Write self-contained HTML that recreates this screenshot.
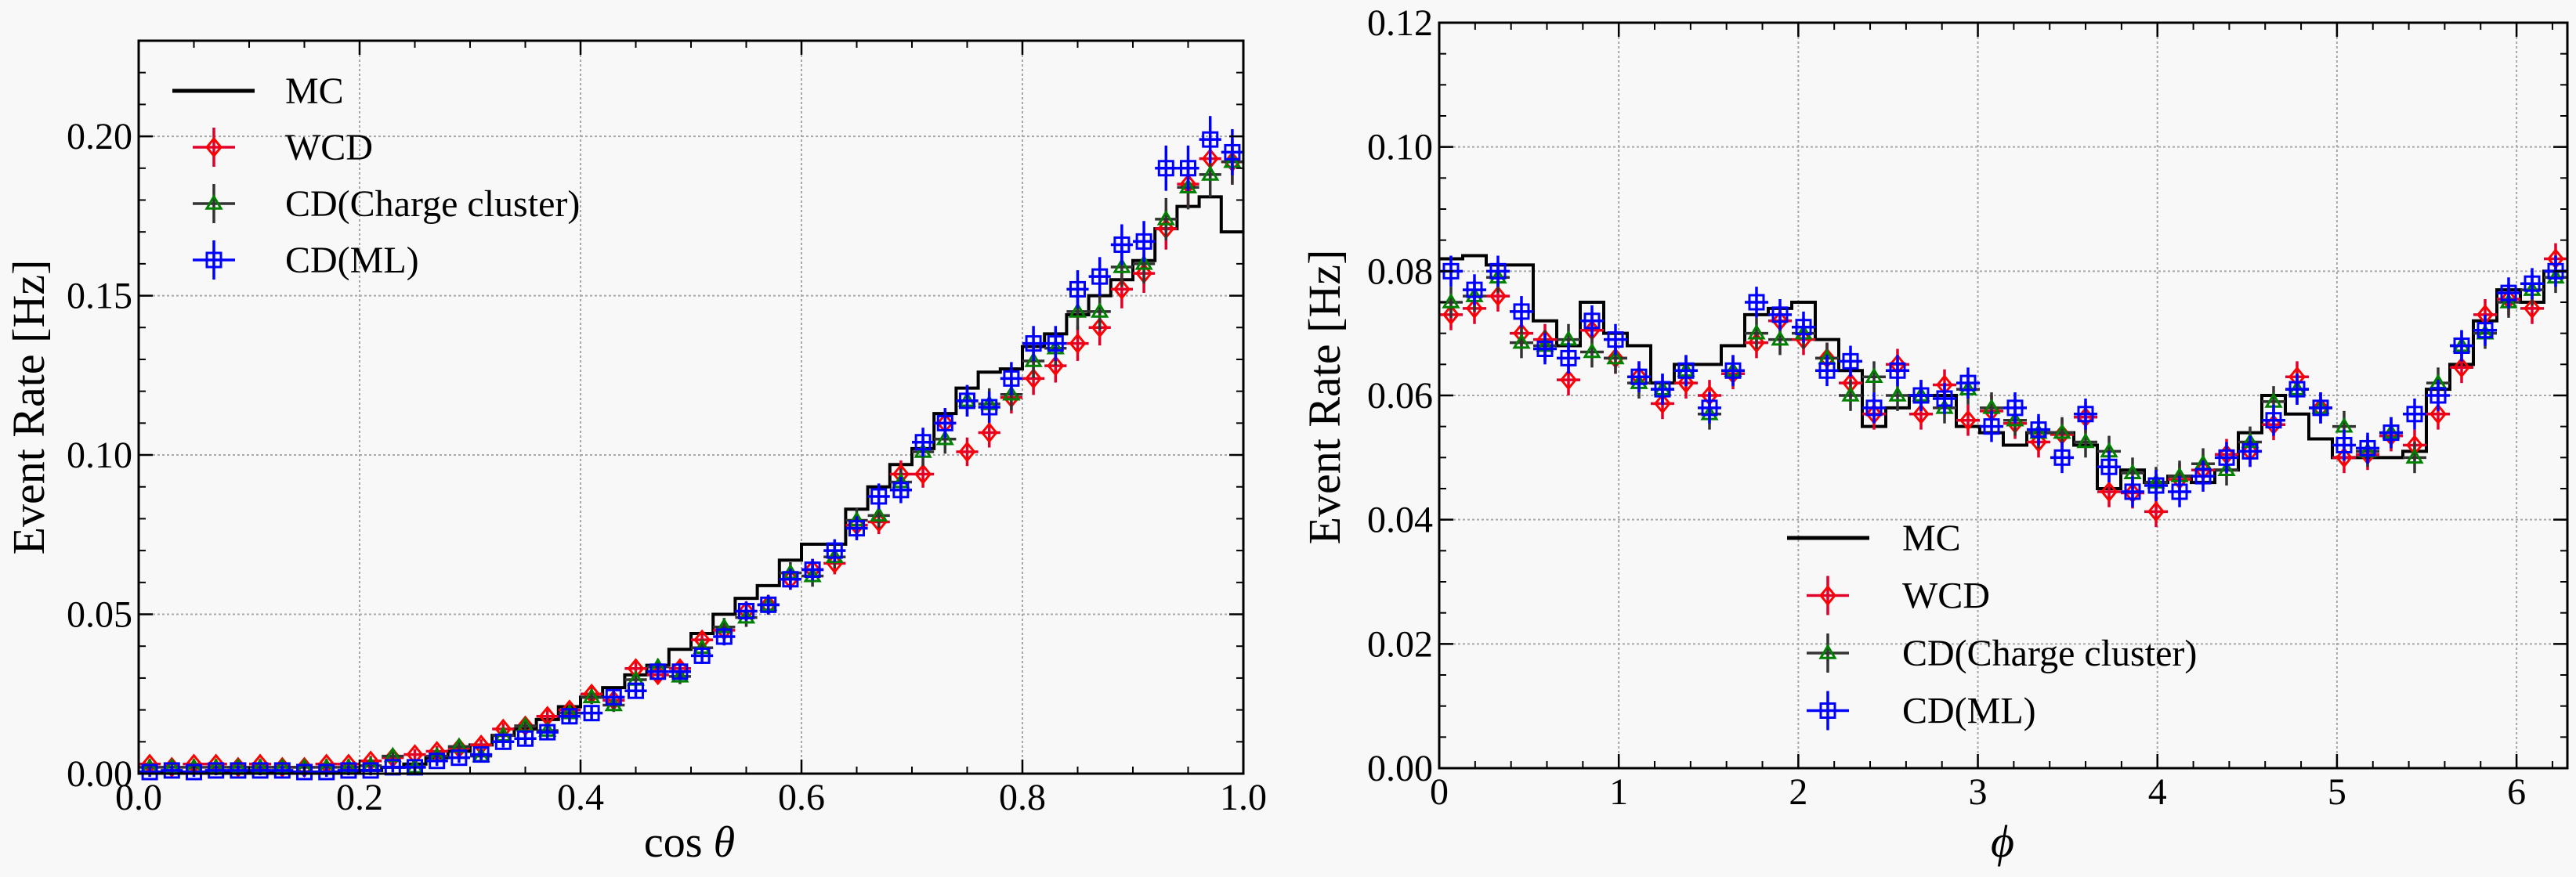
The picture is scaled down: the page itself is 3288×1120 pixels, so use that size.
<!DOCTYPE html>
<html><head><meta charset="utf-8"><style>
html,body{margin:0;padding:0;background:#f8f8f8}
svg{display:block}
text{font-family:"Liberation Serif",serif;fill:#000}
</style></head><body>
<svg id="s" width="3288" height="1120" xmlns="http://www.w3.org/2000/svg"></svg>
<script>
const S=document.getElementById('s');let out='';
function P(a){out+=a;}
function plot(o){
 const {x0,x1,y0,y1,xmin,xmax,ymin,ymax}=o;
 const X=v=>x0+(v-xmin)/(xmax-xmin)*(x1-x0), Y=v=>y1-(v-ymin)/(ymax-ymin)*(y1-y0);
 P(`<rect x="${x0}" y="${y0}" width="${x1-x0}" height="${y1-y0}" fill="#f8f8f8"/>`);
 o.xmaj.forEach(v=>{P(`<line x1="${X(v)}" y1="${y0}" x2="${X(v)}" y2="${y1}" stroke="#a8a8a8" stroke-width="2" stroke-dasharray="3,3"/>`)});
 o.ymaj.forEach(v=>{P(`<line x1="${x0}" y1="${Y(v)}" x2="${x1}" y2="${Y(v)}" stroke="#a8a8a8" stroke-width="2" stroke-dasharray="3,3"/>`)});
 let d='',n=o.mc.length,w=(xmax-xmin)/n;
 o.mc.forEach((v,i)=>{const xa=X(xmin+i*w),xb=X(xmin+(i+1)*w),yy=Y(v);d+=(i?'L':'M')+xa+' '+yy+'L'+xb+' '+yy;});
 P(`<path d="${d}" fill="none" stroke="#000" stroke-width="4"/>`);
 const ser=[[o.wcd,'#ff0000','#e0002a','d'],[o.cc,'#008000','#333','t'],[o.ml,'#0000ff','#0000ff','s']];
 ser.forEach(([arr,c,ec,m])=>{arr.forEach((v,i)=>{
   const cx=X(xmin+(i+.5)*w),cy=Y(v),hw=(X(w)-X(0))/2,e=(Y(0)-Y(o.err))+ (o.errk?o.errk*v:0);
   marker(cx,cy,hw,e,c,ec,m);
 });});
 o.xmin_t.forEach(v=>{P(`<line x1="${X(v)}" y1="${y1}" x2="${X(v)}" y2="${y1-9}" stroke="#000" stroke-width="2"/><line x1="${X(v)}" y1="${y0}" x2="${X(v)}" y2="${y0+9}" stroke="#000" stroke-width="2"/>`)});
 o.ymin_t.forEach(v=>{P(`<line x1="${x0}" y1="${Y(v)}" x2="${x0+9}" y2="${Y(v)}" stroke="#000" stroke-width="2"/><line x1="${x1}" y1="${Y(v)}" x2="${x1-9}" y2="${Y(v)}" stroke="#000" stroke-width="2"/>`)});
 o.xmaj.forEach(v=>{P(`<line x1="${X(v)}" y1="${y1}" x2="${X(v)}" y2="${y1-18}" stroke="#000" stroke-width="2.5"/><line x1="${X(v)}" y1="${y0}" x2="${X(v)}" y2="${y0+18}" stroke="#000" stroke-width="2.5"/>`)});
 o.ymaj.forEach(v=>{P(`<line x1="${x0}" y1="${Y(v)}" x2="${x0+18}" y2="${Y(v)}" stroke="#000" stroke-width="2.5"/><line x1="${x1}" y1="${Y(v)}" x2="${x1-18}" y2="${Y(v)}" stroke="#000" stroke-width="2.5"/>`)});
 P(`<rect x="${x0}" y="${y0}" width="${x1-x0}" height="${y1-y0}" fill="none" stroke="#000" stroke-width="3"/>`);
 o.xlab.forEach(([v,t])=>P(`<text x="${X(v)}" y="${y1+46}" font-size="48" text-anchor="middle">${t}</text>`));
 o.ylab.forEach(([v,t])=>P(`<text x="${x0-8}" y="${Y(v)+16}" font-size="48" text-anchor="end">${t}</text>`));
}
function marker(cx,cy,hw,e,c,ec,m){
 P(`<line x1="${cx-hw}" y1="${cy}" x2="${cx+hw}" y2="${cy}" stroke="${ec}" stroke-width="3.5"/>`);
 P(`<line x1="${cx}" y1="${cy-e}" x2="${cx}" y2="${cy+e}" stroke="${ec}" stroke-width="3.5"/>`);
 const r=9;
 if(m=='d')P(`<polygon points="${cx},${cy-r-2} ${cx+r},${cy} ${cx},${cy+r+2} ${cx-r},${cy}" fill="none" stroke="${c}" stroke-width="3"/>`);
 if(m=='t')P(`<polygon points="${cx},${cy-r} ${cx+r},${cy+r*0.7} ${cx-r},${cy+r*0.7}" fill="none" stroke="${c}" stroke-width="3"/>`);
 if(m=='s')P(`<rect x="${cx-r}" y="${cy-r}" width="${2*r}" height="${2*r}" fill="none" stroke="${c}" stroke-width="3"/>`);
}
function range(a,b,s){const r=[];for(let v=a;v<=b+1e-9;v+=s)r.push(+v.toFixed(4));return r;}
// LEFT
const mcL=[.0005,.0005,.0005,.0005,.0005,.0005,.0005,.0005,.0005,.0005,.001,.002,.003,.005,.007,.009,.012,.014,.017,.021,.024,.027,.031,.034,.039,.044,.050,.055,.059,.067,.072,.072,.083,.090,.097,.102,.113,.121,.126,.127,.134,.138,.144,.150,.155,.161,.171,.178,.181,.170];
const wcdL=[.003,.002,.003,.003,.002,.003,.002,.002,.003,.003,.004,.005,.006,.007,.008,.009,.014,.015,.018,.020,.025,.023,.033,.031,.033,.042,.045,.051,.053,.061,.064,.066,.078,.079,.094,.094,.110,.101,.107,.118,.124,.128,.135,.140,.152,.157,.171,.185,.193,.192];
const mlL=[.0005,.001,.0005,.001,.001,.001,.001,.0005,.0005,.001,.001,.002,.002,.004,.005,.006,.010,.011,.013,.018,.019,.024,.026,.032,.032,.037,.043,.051,.053,.061,.064,.070,.077,.087,.089,.104,.110,.117,.115,.124,.135,.135,.152,.156,.166,.167,.190,.190,.199,.195];
const ccL=mcL.map((v,i)=>i<10?.002:((wcdL[i]+mlL[i])/2+ (i%3-1)*0.002));
ccL[46]=.174;ccL[47]=.184;ccL[48]=.188;ccL[49]=.192;ccL[44]=.159;ccL[43]=.145;ccL[42]=.145;ccL[36]=.105;ccL[37]=.117;ccL[38]=.116;
plot({x0:177,x1:1587,y0:52,y1:988,xmin:0,xmax:1,ymin:0,ymax:.23,mc:mcL,wcd:wcdL,cc:ccL,ml:mlL,err:.0015,errk:120,
 xmaj:[.2,.4,.6,.8],ymaj:[.05,.1,.15,.2],xmin_t:range(.05,.95,.05),ymin_t:range(.01,.22,.01),
 xlab:[[0,'0.0'],[.2,'0.2'],[.4,'0.4'],[.6,'0.6'],[.8,'0.8'],[1,'1.0']],
 ylab:[[0,'0.00'],[.05,'0.05'],[.1,'0.10'],[.15,'0.15'],[.2,'0.20']]});
// RIGHT
const mcR=[.082,.0825,.081,.081,.072,.068,.075,.070,.068,.062,.065,.065,.068,.073,.074,.075,.069,.064,.055,.058,.060,.060,.055,.054,.052,.054,.054,.052,.045,.048,.046,.047,.046,.048,.054,.060,.057,.053,.050,.050,.050,.051,.061,.065,.072,.077,.075,.080];
const wcdR=[.073,.074,.076,.070,.069,.0625,.0705,.066,.063,.0587,.062,.060,.0635,.0685,.072,.069,.066,.062,.057,.065,.057,.0617,.056,.0575,.0555,.0525,.0537,.0565,.0445,.0443,.0413,.0465,.048,.0505,.051,.0553,.063,.058,.050,.0505,.0535,.052,.057,.0645,.073,.0755,.074,.082];
const ccR=[.075,.076,.079,.0685,.068,.069,.067,.066,.062,.061,.064,.057,.064,.070,.069,.070,.066,.060,.063,.060,.060,.058,.061,.058,.056,.054,.054,.0525,.051,.0475,.046,.047,.049,.048,.0525,.059,.061,.058,.055,.051,.054,.050,.062,.068,.070,.075,.077,.079];
const mlR=[.080,.077,.080,.0735,.0675,.066,.072,.069,.063,.061,.064,.058,.064,.075,.073,.071,.064,.0655,.058,.064,.060,.0595,.062,.055,.058,.0545,.050,.057,.0485,.0445,.0455,.0445,.047,.050,.051,.056,.061,.058,.052,.0515,.054,.057,.060,.068,.0705,.0765,.078,.080];
plot({x0:1837,x1:3277,y0:29,y1:981,xmin:0,xmax:2*Math.PI,ymin:0,ymax:.12,mc:mcR,wcd:wcdR,cc:ccR,ml:mlR,err:.0025,
 xmaj:[1,2,3,4,5,6],ymaj:[.02,.04,.06,.08,.1],xmin_t:range(.2,6.2,.2),ymin_t:range(.005,.115,.005),
 xlab:[[0,'0'],[1,'1'],[2,'2'],[3,'3'],[4,'4'],[5,'5'],[6,'6']],
 ylab:[[0,'0.00'],[.02,'0.02'],[.04,'0.04'],[.06,'0.06'],[.08,'0.08'],[.1,'0.10'],[.12,'0.12']]});
function legend(lx,mx,tx,y0,dy){
 P(`<line x1="${lx}" y1="${y0}" x2="${lx+105}" y2="${y0}" stroke="#000" stroke-width="5"/>`);
 P(`<text x="${tx}" y="${y0+16}" font-size="48">MC</text>`);
 const L=[['WCD','#ff0000','#e0002a','d'],['CD(Charge cluster)','#008000','#333','t'],['CD(ML)','#0000ff','#0000ff','s']];
 L.forEach((l,i)=>{const y=y0+dy*(i+1);marker(mx,y,27,25,l[1],l[2],l[3]);P(`<text x="${tx}" y="${y+16}" font-size="48">${l[0]}</text>`);});
}
legend(220,273,364,116,72);
legend(2281,2333,2428,687,73.5);
P(`<text transform="translate(56,520) rotate(-90)" font-size="58" text-anchor="middle">Event Rate [Hz]</text>`);
P(`<text transform="translate(1710,507) rotate(-90)" font-size="58" text-anchor="middle">Event Rate [Hz]</text>`);
P(`<text x="880" y="1094" font-size="56" text-anchor="middle">cos <tspan font-style="italic">θ</tspan></text>`);
P(`<text x="2556" y="1094" font-size="58" text-anchor="middle" font-style="italic">ϕ</text>`);
S.innerHTML=out;
</script>
</body></html>
